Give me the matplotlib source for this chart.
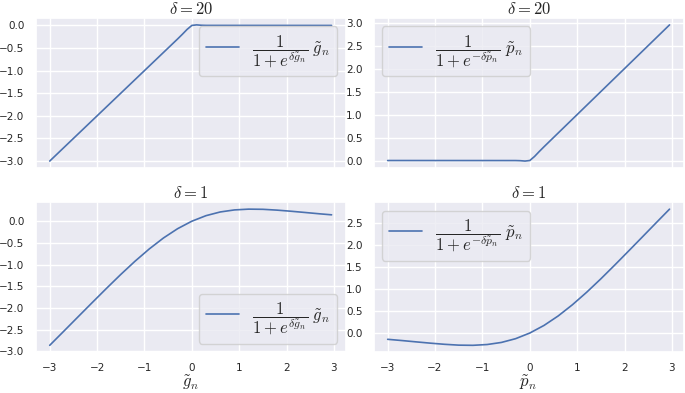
import matplotlib
matplotlib.use('Agg')
import matplotlib.pyplot as plt
from matplotlib.ticker import MultipleLocator
import seaborn as sns

sns.set_theme(style='darkgrid', font_scale=0.85)
plt.rcParams['mathtext.fontset'] = 'cm'

# values
x_top = [-3.0, -0.3, -0.2, -0.1, 0.0, 0.1, 0.2, 0.3, 2.95]
g_d20 = [-3.0, -0.299, -0.196, -0.088, 0.0, 0.012, 0.004, 0.001, 0.0]
p_d20 = [0.0, -0.001, -0.004, -0.012, 0.0, 0.088, 0.196, 0.299, 2.95]

x_bot = [-3.0, -2.7, -2.4, -2.1, -1.8, -1.5, -1.2, -0.9, -0.6, -0.3, 0.0,
         0.3, 0.6, 0.9, 1.2, 1.5, 1.8, 2.1, 2.4, 2.7, 2.95]
g_d1 = [-2.858, -2.530, -2.200, -1.871, -1.545, -1.226, -0.922, -0.640, -0.387,
        -0.172, 0.0, 0.128, 0.213, 0.260, 0.278, 0.274, 0.255, 0.229, 0.200,
        0.170, 0.147]
p_d1 = [-0.142, -0.170, -0.200, -0.229, -0.255, -0.274, -0.278, -0.260, -0.213,
        -0.128, 0.0, 0.172, 0.387, 0.640, 0.922, 1.226, 1.545, 1.871, 2.200,
        2.530, 2.803]

lab_g = r'$\dfrac{1}{1+e^{\delta\tilde{g}_n}}\ \tilde{g}_n$'
lab_p = r'$\dfrac{1}{1+e^{-\delta\tilde{p}_n}}\ \tilde{p}_n$'

fig, axes = plt.subplots(2, 2, figsize=(6.85, 3.93), dpi=100, sharex='col')
c = '#4c72b0'
leg_kw = dict(fontsize=12, handlelength=2.0)

ax = axes[0, 0]
ax.plot(x_top, g_d20, color=c, lw=1.2, label=lab_g)
ax.set_title(r'$\delta = 20$', fontsize=12, pad=3)
ax.legend(loc='upper right', **leg_kw)

ax = axes[0, 1]
ax.plot(x_top, p_d20, color=c, lw=1.2, label=lab_p)
ax.set_title(r'$\delta = 20$', fontsize=12, pad=3)
ax.legend(loc='upper left', **leg_kw)

ax = axes[1, 0]
ax.plot(x_bot, g_d1, color=c, lw=1.2, label=lab_g)
ax.set_title(r'$\delta = 1$', fontsize=12, pad=3)
ax.legend(loc='lower right', **leg_kw)
ax.set_xlabel(r'$\tilde{g}_n$', fontsize=12, labelpad=0)

ax = axes[1, 1]
ax.plot(x_bot, p_d1, color=c, lw=1.2, label=lab_p)
ax.set_title(r'$\delta = 1$', fontsize=12, pad=3)
ax.legend(loc='upper left', **leg_kw)
ax.set_xlabel(r'$\tilde{p}_n$', fontsize=12, labelpad=0)

for a in axes.flat:
    a.set_xticks([-3, -2, -1, 0, 1, 2, 3])
    a.yaxis.set_major_locator(MultipleLocator(0.5))
    a.tick_params(labelsize=7.5, pad=2)

plt.subplots_adjust(left=0.052, right=0.998, top=0.954, bottom=0.104,
                    wspace=0.09, hspace=0.23)
fig.savefig('out.png', dpi=100)
